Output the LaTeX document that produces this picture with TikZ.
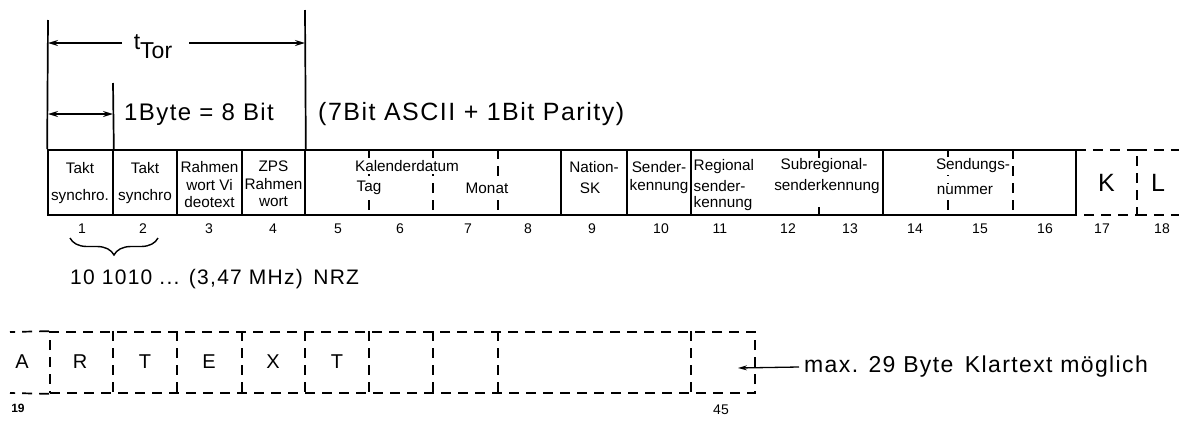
\documentclass[tikz,border=0pt]{standalone}
\usepackage{fontspec}
\setmainfont{Liberation Sans}
\newfontfamily\widefont[LetterSpace=6]{Liberation Sans}
\usetikzlibrary{arrows.meta,decorations.pathreplacing}
\begin{document}
\begin{tikzpicture}[x=1pt,y=-1pt,
  frm/.style={draw, line width=1.7pt, minimum height=65pt, inner sep=0pt},
  area/.style={minimum height=65pt, inner sep=0pt},
  dsh/.style={line width=1.7pt, dash pattern=on 10pt off 7pt},
  tk/.style={line width=1.7pt},
  vline/.style={line width=1.7pt},
  celltxt/.style={font=\fontsize{15.3}{17}\selectfont, inner sep=0.5pt},
  numtxt/.style={font=\fontsize{14}{16}\selectfont, inner sep=0pt},
  bigtxt/.style={font=\widefont\fontsize{24}{28}\selectfont, inner sep=0pt},
  lettxt/.style={font=\fontsize{20}{24}\selectfont, inner sep=0pt},
  dimarr/.style={line width=1.5pt, -{Stealth[length=10pt,width=6pt]}},
  dimboth/.style={line width=1.5pt, {Stealth[length=10pt,width=6pt]}-{Stealth[length=10pt,width=6pt]}}
]
\useasboundingbox (0,0) rectangle (1179,421);

% ---------- first row boxes ----------
\node[frm, minimum width=65pt] (c1) at (80.5,182.5) {};
\node[frm, minimum width=64pt] (c2) at (145,182.5) {};
\node[frm, minimum width=65pt] (c3) at (209.5,182.5) {};
\node[frm, minimum width=63pt] (c4) at (273.5,182.5) {};
\node[frm, minimum width=256pt] (kal) at (433,182.5) {};
\node[frm, minimum width=66pt] (nat) at (594,182.5) {};
\node[frm, minimum width=64pt] (snd) at (659,182.5) {};
\node[frm, minimum width=192pt] (reg) at (787,182.5) {};
\node[frm, minimum width=193pt] (sdn) at (979.5,182.5) {};
\node[area, minimum width=61pt, font=\fontsize{25}{28}\selectfont] (kb) at (1106.5,182.5) {K};
\node[area, minimum width=42pt, font=\fontsize{25}{28}\selectfont] (lb) at (1158,182.5) {L};

\draw[dsh] (kb.north west) -- (kb.north east) -- (kb.south east) -- (kb.south west);
\draw[dsh] (lb.north west) -- (lb.north east);
\draw[dsh] (lb.south west) -- (lb.south east);

\foreach \x in {369,433,498} \draw[dsh] (kal.north -| \x,0) -- (kal.south -| \x,0);
\foreach \x in {948,1013} \draw[dsh] (sdn.north -| \x,0) -- (sdn.south -| \x,0);
\draw[tk] (reg.north -| 819,0) -- ++(0,9);
\draw[tk] (reg.south -| 819,0) -- ++(0,-9);

% ---------- cell texts ----------
\node[celltxt] at (80,168) {Takt};
\node[celltxt] at (80,197) {synchro.};
\node[celltxt] at (145,168) {Takt};
\node[celltxt] at (145,197) {synchro};
\node[celltxt] at (209.5,167) {Rahmen};
\node[celltxt] at (209.5,185) {wort Vi};
\node[celltxt] at (209.5,202) {deotext};
\node[celltxt] at (273.5,166) {ZPS};
\node[celltxt] at (273.5,184) {Rahmen};
\node[celltxt] at (273.5,202) {wort};
\node[celltxt, fill=white, inner sep=2pt] at (407,166) {Kalenderdatum};
\node[celltxt, fill=white, inner sep=2pt] at (369,188) {Tag};
\node[celltxt, fill=white, inner sep=2pt] at (487,188) {Monat};
\node[celltxt] at (594,167) {Nation-};
\node[celltxt] at (590,188) {SK};
\node[celltxt] at (659,167) {Sender-};
\node[celltxt] at (659,187) {kennung};
\node[celltxt, anchor=west] at (693,167) {Regional};
\node[celltxt, anchor=west] at (693,186) {sender-};
\node[celltxt, anchor=west] at (693,204) {kennung};
\node[celltxt] at (824,166) {Subregional-};
\node[celltxt] at (827,187) {senderkennung};
\node[celltxt, fill=white, inner sep=2pt] at (973,166) {Sendungs-};
\node[celltxt, fill=white, inner sep=2pt] at (965,190) {nummer};

% ---------- numbers ----------
\foreach \n/\x in {1/82,2/143,3/209,4/273,5/338,6/400,7/468,8/528,9/592,10/661,11/720,12/788,13/850,14/915,15/980,16/1045,17/1102,18/1162}
  \node[numtxt] (n\n) at (\x,229) {\n};

\coordinate (br1) at (70,238);
\coordinate (br2) at (158,238);
\draw[line width=1.4pt, decorate, decoration={brace, mirror, amplitude=17pt}] (br1) -- (br2);

\node[font=\widefont\fontsize{21}{24}\selectfont, anchor=west, inner sep=0pt] (nrz) at (70,279) {10 1010 ... (3,47 MHz)\enspace NRZ};

% ---------- top dimension lines ----------
\coordinate (v1) at (48,20);
\coordinate (v2) at (113,83);
\coordinate (v3) at (305,10);
\draw[vline] (v1) -- (c1.north west);
\draw[vline] (v2) -- (c1.north east);
\draw[vline] (v3) -- (c4.north east);

\coordinate (a1) at (48,43);
\coordinate (a2) at (305,43);
\node[font=\fontsize{23}{26}\selectfont, inner sep=0pt] (tlab) at (153,47) {t\raisebox{-9pt}{Tor}};
\coordinate (tl) at (122,43);
\coordinate (tr) at (189,43);
\draw[dimarr] (tl) -- (a1);
\draw[dimarr] (tr) -- (a2);

\coordinate (b1) at (48,114);
\coordinate (b2) at (113,114);
\draw[dimboth] (b1) -- (b2);
\node[bigtxt, anchor=west] (byte) at (124,114) {1Byte = 8 Bit};
\node[bigtxt, anchor=west, font=\widefont\fontsize{25}{28}\selectfont] (ascii) at (318,114) {(7Bit ASCII + 1Bit Parity)};

% ---------- second row ----------
\node[draw, dsh, minimum width=705pt, minimum height=61pt, inner sep=0pt] (r2) at (402.5,362.5) {};
\coordinate (e1) at (10,332);
\coordinate (e2) at (10,393);
\draw[dsh] (r2.north west) -- (e1);
\draw[dsh] (r2.south west) -- (e2);
\foreach \x in {113,177,242,305,369,433,498,691}
  \draw[dsh] (r2.north -| \x,0) -- (r2.south -| \x,0);

\node[lettxt] at (22,362) {A};
\node[lettxt] at (80,362) {R};
\node[lettxt] at (145,362) {T};
\node[lettxt] at (209,362) {E};
\node[lettxt] at (273,362) {X};
\node[lettxt] at (337,362) {T};

\node[font=\bfseries\fontsize{12}{14}\selectfont] at (18,408) {19};
\node[numtxt] at (721,410) {45};

\node[font=\widefont\fontsize{23}{26}\selectfont, anchor=west, inner sep=5pt] (maxt) at (799,367) {max. 29 Byte\enspace Klartext möglich};
\coordinate (tipend) at (738,368);
\draw[line width=1.3pt, -{Stealth[length=9pt,width=5pt]}] (maxt.west) -- (tipend);

\end{tikzpicture}
\end{document}
